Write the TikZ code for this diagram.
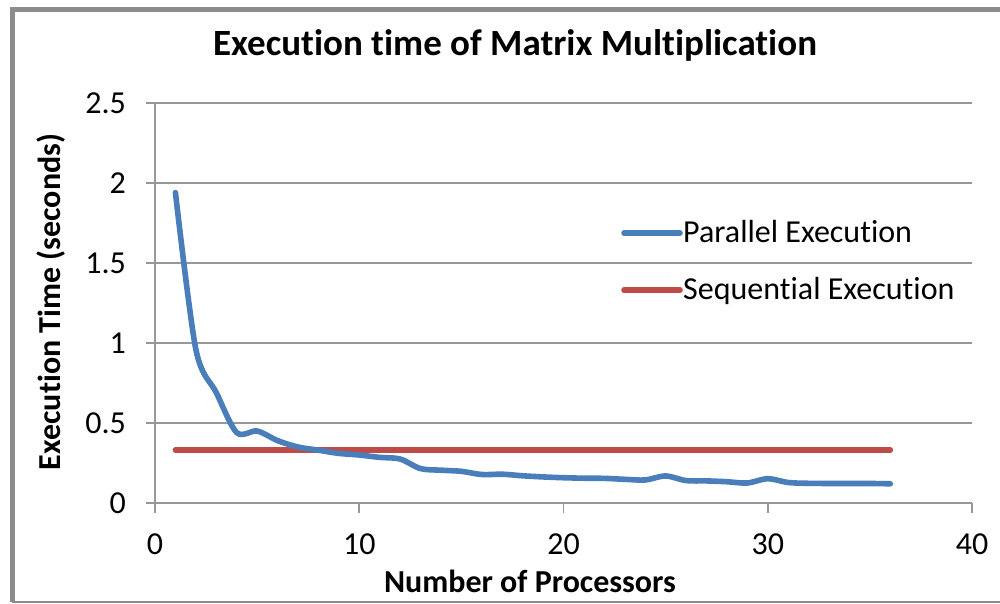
\documentclass[tikz,border=0pt]{standalone}
\usepackage{fontspec}
\setmainfont[Ligatures=NoCommon]{Carlito}
\usepackage{tikz}
\definecolor{parblue}{HTML}{4A7EBB}
\definecolor{seqred}{HTML}{BE4B48}
\definecolor{axgray}{HTML}{989898}
\definecolor{framegray}{HTML}{8C8C8C}
\newcommand{\chartfont}{\fontsize{32}{32}\selectfont}

\begin{document}
\begin{tikzpicture}[x=1pt,y=1pt,
  gridline/.style={draw=axgray, line width=1.6pt},
  series/.style={line width=5.6pt, line cap=round, line join=round},
  ticklabel/.style={font=\chartfont, inner sep=0pt},
  axistitle/.style={font=\chartfont\bfseries, inner sep=0pt}]
\useasboundingbox (0,0) rectangle (1000,604);
\fill[white] (0,0) rectangle (1000,604);
\draw[framegray, line width=5pt] (12,2) -- (12,594.5) -- (1000,594.5);
\draw[framegray, line width=1.5pt] (12,2) -- (1000,2);
\node[axistitle, font=\fontsize{37}{37}\selectfont\bfseries] (title) at (515,559) {Execution time of Matrix Multiplication};
\node[axistitle, rotate=90] (ytitle) at (51,302) {Execution Time (seconds)};
\node[axistitle] (xtitle) at (530,23) {Number of Processors};
\begin{scope}[shift={(155,101)}, x=20.425pt, y=160pt]
\foreach \y/\lab in {0/0,0.5/0.5,1/1,1.5/1.5,2/2,2.5/2.5}
{
\draw[gridline] (0,\y) ++(-9pt,0) -- (40,\y);
\node[ticklabel, anchor=east] (ylab\lab) at ([xshift=-29pt]0,\y) {\lab};
}
\foreach \x in {0,10,20,30,40}
{
\draw[gridline] (\x,0) -- ++(0,-10pt);
\node[ticklabel] (xlab\x) at ([yshift=-41pt]\x,0) {\x};
}
\draw[gridline] (0,0) -- (0,2.5);
\draw[series, seqred] (1,0.33) -- (36,0.33);
\draw[series, parblue] plot[smooth, tension=0.5] coordinates {
(1,1.94) (2,0.96) (3,0.69) (4,0.44) (5,0.45) (6,0.39) (7,0.35) (8,0.33)
(9,0.31) (10,0.30) (11,0.285) (12,0.275) (13,0.215) (14,0.205) (15,0.198)
(16,0.178) (17,0.18) (18,0.17) (19,0.163) (20,0.158) (21,0.155) (22,0.154)
(23,0.148) (24,0.144) (25,0.169) (26,0.14) (27,0.138) (28,0.133) (29,0.125)
(30,0.152) (31,0.128) (32,0.123) (33,0.122) (34,0.122) (35,0.122) (36,0.12)};
\end{scope}
\node[ticklabel, anchor=base west] (parlab) at (683,361) {Parallel Execution};
\node[ticklabel, anchor=base west] (seqlab) at (683,304) {Sequential Execution};
\coordinate (parkey) at (624,371);
\coordinate (seqkey) at (624,314);
\draw[series, parblue] (parkey) -- ([xshift=-3pt]parkey -| parlab.west);
\draw[series, seqred] (seqkey) -- ([xshift=-3pt]seqkey -| seqlab.west);
\end{tikzpicture}
\end{document}
